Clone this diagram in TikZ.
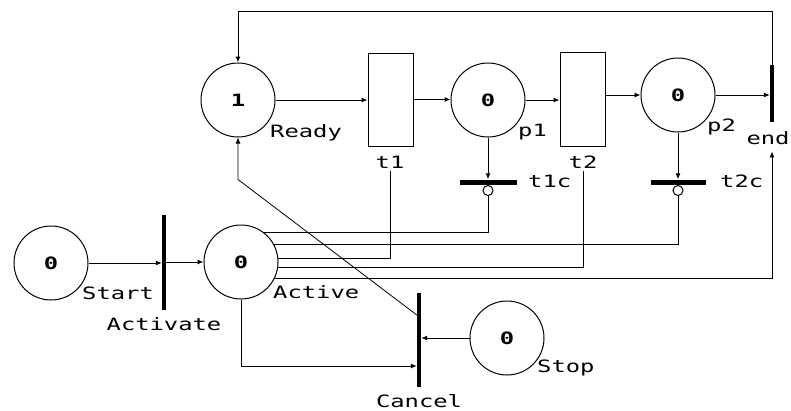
\documentclass[tikz,border=0pt]{standalone}
\usepackage{fontspec}
\newfontfamily\pnfont[FakeStretch=1.4]{DejaVu Sans Mono}
\usetikzlibrary{arrows.meta,calc}
\begin{document}
\begin{tikzpicture}[x=1pt,y=-1pt,
  place/.style={circle,draw,line width=1pt,minimum size=74pt,inner sep=0pt,
    font=\pnfont\fontsize{17}{17}\selectfont\bfseries},
  trans/.style={rectangle,draw,line width=1pt,minimum width=45pt,inner sep=0pt},
  vbar/.style={rectangle,fill=black,minimum width=4pt,inner sep=0pt},
  hbar/.style={rectangle,fill=black,minimum height=5pt,inner sep=0pt},
  inhcirc/.style={circle,draw,line width=1pt,minimum size=10pt,inner sep=0pt},
  lbl/.style={font=\pnfont\fontsize{17}{17}\selectfont,inner sep=0pt},
  arc/.style={line width=1pt,-{Latex[length=6pt,width=5pt]}},
  plain/.style={line width=1pt}]
\useasboundingbox (0,0) rectangle (791,410);
% places and transitions
\node[place] (Ready) at (238,100) {1};
\node[trans,minimum height=93pt] (t1) at (390.5,99.5) {};
\node[place] (p1) at (488,100) {0};
\node[trans,minimum height=94pt] (t2) at (582.5,99) {};
\node[place] (p2) at (678,95) {0};
\node[vbar,minimum height=57pt] (end) at (772,93.5) {};
\node[hbar,minimum width=57pt] (t1c) at (488,182) {};
\node[hbar,minimum width=55pt] (t2c) at (678,182) {};
\node[inhcirc] (t1ci) at (488,190.5) {};
\node[inhcirc] (t2ci) at (678,190.5) {};
\node[place] (Start) at (51,263) {0};
\node[vbar,minimum height=95pt] (Activate) at (164,262.5) {};
\node[place] (Active) at (241,262) {0};
\node[vbar,minimum height=94pt] (Cancel) at (419,340) {};
\node[place] (Stop) at (507,338) {0};
% labels
\node[lbl,anchor=base west] (lReady) at (270,137) {Ready};
\node[lbl,anchor=base] (lt1) at (390,168) {t1};
\node[lbl,anchor=base] (lt2) at (583,168) {t2};
\node[lbl,anchor=base] (lend) at (768,144) {end};
\node[lbl,anchor=base west] (lp1) at (518,136) {p1};
\node[lbl,anchor=base west] (lp2) at (707,131) {p2};
\node[lbl,anchor=base west] (lt1c) at (528,187) {t1c};
\node[lbl,anchor=base west] (lt2c) at (720,187) {t2c};
\node[lbl,anchor=base west] (lStart) at (82,299) {Start};
\node[lbl,anchor=base] (lActivate) at (164,330) {Activate};
\node[lbl,anchor=base west] (lActive) at (273,298) {Active};
\node[lbl,anchor=base] (lCancel) at (419,407) {Cancel};
\node[lbl,anchor=base west] (lStop) at (537,372) {Stop};
% arcs
\draw[arc] (Ready.east) -- (Ready.east -| t1.west);
\draw[arc] (t1.east) -- (t1.east -| p1.west);
\draw[arc] (p1.east) -- (p1.east -| t2.west);
\draw[arc] (t2.east |- p2.west) -- (p2.west);
\draw[arc] (p2.east) -- (p2.east -| end.west);
\draw[arc] (end.north) -- ++(0,-53) -| (Ready.north);
\draw[arc] (p1.south) -- (t1c.north);
\draw[arc] (p2.south) -- (p2.south |- t2c.north);
\draw[plain] (Active.52) -| (t1ci.south);
\draw[plain] (Active.27) -| (t2ci.south);
\draw[plain] (Active.6) -| ([yshift=-3pt]lt1.south);
\draw[plain] (Active.-9) -| ([yshift=-3pt]lt2.south);
\draw[arc] (Active.-26) -| ($(end.south |- lend.south)+(0,7)$);
\draw[arc] (Start.east) -- (Start.east -| Activate.west);
\draw[arc] (Activate.east |- Active.west) -- (Active.west);
\draw[arc] (Active.south) |- ($(Cancel.west)+(0,26)$);
\draw[arc] (Stop.west) -- (Stop.west -| Cancel.east);
\draw[arc,line width=0.8pt] ($(Cancel.west)+(0,-25)$) -- ($(Ready.south)+(0,42)$) -- (Ready.south);
\end{tikzpicture}
\end{document}
